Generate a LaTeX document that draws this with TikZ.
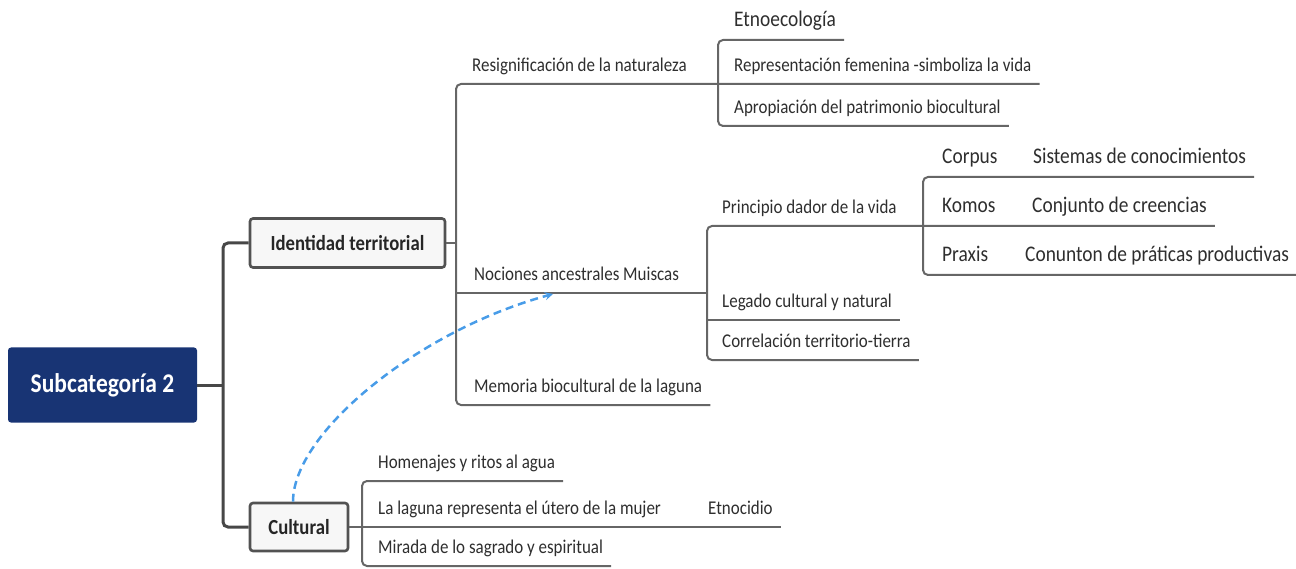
\documentclass[tikz,border=0pt]{standalone}
\usepackage{fontspec}
\setmainfont{Carlito}[FakeStretch=0.87]
\usepackage{xcolor}
\usetikzlibrary{arrows,shapes,positioning}
\definecolor{rootblue}{RGB}{24,52,116}
\definecolor{linkblue}{RGB}{72,156,232}
\tikzset{
  mainline/.style={draw=black!72, line width=3pt, rounded corners=5pt},
  subline/.style={draw=black!60, line width=2pt, rounded corners=5pt},
  topicbox/.style={draw=black!68, fill=black!3, line width=2.6pt, rounded corners=3pt, text=black!85, font=\bfseries\fontsize{21.5}{24}\selectfont},
  sub/.style={anchor=south west, inner xsep=8pt, inner ysep=12pt, text depth=0pt, text=black!82, font=\fontsize{19.5}{22}\selectfont},
  subbig/.style={sub, inner ysep=13pt, font=\fontsize{22.3}{25}\selectfont}
}
\begin{document}
\begin{tikzpicture}[x=1pt, y=-1pt]
\useasboundingbox (0,0) rectangle (1296,569);

% main topics
\node[fill=rootblue, rounded corners=3pt, minimum width=189pt, minimum height=75pt, text=white, font=\bfseries\fontsize{27}{30}\selectfont] (root) at (102.5,385) {Subcategoría 2};
\node[topicbox, minimum width=195pt, minimum height=49pt] (idt) at (347.5,243) {Identidad territorial};
\node[topicbox, minimum width=98pt, minimum height=48pt] (cul) at (299,527) {Cultural};

% bracket points
\coordinate (c1) at (223,385);
\coordinate (c2) at (456,243);
\coordinate (c3) at (707,293);
\coordinate (c4) at (923,226);
\coordinate (c5) at (718,84);
\coordinate (c6) at (362,527);

% Identidad territorial
\node[sub] (res) at (464,84) {Resignificación de la naturaleza};
\node[subbig] (etno) at (726,40) {Etnoecología};
\node[sub] (rep) at (726,84) {Representación femenina -simboliza la vida};
\node[sub] (aprop) at (726,126) {Apropiación del patrimonio biocultural};
\node[sub] (noc) at (466,293) {Nociones ancestrales Muiscas};
\node[sub] (prin) at (714,226) {Principio dador de la vida};
\node[sub] (leg) at (714,320) {Legado cultural y natural};
\node[sub] (corr) at (714,360) {Correlación territorio-tierra};
\node[subbig] (corp) at (934,177) {Corpus};
\node[subbig] (sis) at (1025,177) {Sistemas de conocimientos};
\node[subbig] (kom) at (934,226) {Komos};
\node[subbig] (conj) at (1024,226) {Conjunto de creencias};
\node[subbig] (prax) at (934,275) {Praxis};
\node[subbig] (conu) at (1017,275) {Conunton de práticas productivas};
\node[sub] (mem) at (466,405) {Memoria biocultural de la laguna};

% Cultural
\node[sub] (hom) at (370,481) {Homenajes y ritos al agua};
\node[sub] (lag) at (370,527) {La laguna representa el útero de la mujer};
\node[sub] (etc) at (700,527) {Etnocidio};
\node[sub] (mir) at (370,566) {Mirada de lo sagrado y espiritual};

\draw[mainline] (root) -- (c1);
\draw[mainline] (idt.west) -| (c1) |- (cul.west);

\draw[subline] (idt) -- (c2);
\draw[subline] (rep.south east) -| (c2) |- (mem.south east);
\draw[subline] (etno.south east) -| (c5) |- (aprop.south east);
\draw[subline] (c2 |- noc.south) -- (c3);
\draw[subline] (conj.south east) -| (c3) |- (corr.south east);
\draw[subline] (c3 |- leg.south) -- (leg.south east);
\draw[subline] (sis.south east) -| (c4) |- (conu.south east);

\draw[subline] (cul) -- (etc.south east);
\draw[subline] (hom.south east) -| (c6) |- (mir.south east);

% link
\coordinate (tip) at (553,294);
\draw[linkblue, line width=2.5pt, dash pattern=on 8pt off 5pt, -stealth] ([xshift=-6pt]cul.north) .. controls (293,432) and (420,330) .. (tip);
%\draw[red] (tip) circle (3pt);

\end{tikzpicture}
\end{document}
